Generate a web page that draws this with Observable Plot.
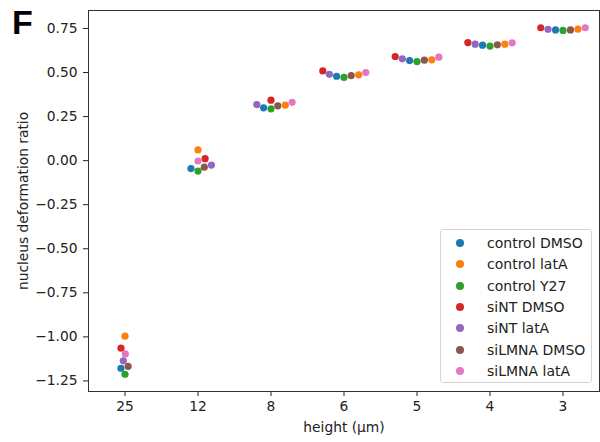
<!DOCTYPE html>
<html><head><meta charset="utf-8">
<script src="https://cdn.jsdelivr.net/npm/d3@7"></script>
<script src="https://cdn.jsdelivr.net/npm/@observablehq/plot@0.6"></script>
<style>
body{margin:0;background:#fff;}
#wrap{position:relative;width:600px;height:442px;font-family:"DejaVu Sans",sans-serif;color:#222;}
#panel{position:absolute;left:12px;top:2px;font:bold 34px "Liberation Sans",Arial,sans-serif;color:#000;line-height:40px;}
#legend{position:absolute;left:440px;top:229px;width:150px;height:152px;border:1px solid #d4d4d4;border-radius:3px;background:rgba(255,255,255,0.8);}
.row{position:absolute;left:0;height:20px;font-size:14px;line-height:20px;white-space:nowrap;}
.row .sw{position:absolute;left:15px;top:6px;width:8px;height:8px;border-radius:50%;}
.row .lb{position:absolute;left:46px;top:0;}
</style></head>
<body>
<div id="wrap"></div>
<script>
// ---- data ----
const heights = ["25", "12", "8", "6", "5", "4", "3"];
const series = ["control DMSO", "control latA", "control Y27", "siNT DMSO", "siNT latA", "siLMNA DMSO", "siLMNA latA"];
const controlDMSO = [-1.178, -0.045, 0.300, 0.479, 0.568, 0.655, 0.742];
const controlLatA = [-0.996, 0.061, 0.315, 0.487, 0.572, 0.661, 0.746];
const controlY27  = [-1.212, -0.059, 0.294, 0.472, 0.562, 0.650, 0.739];
const siNTDMSO    = [-1.064, 0.011, 0.343, 0.509, 0.591, 0.670, 0.754];
const siNTLatA    = [-1.136, -0.025, 0.318, 0.490, 0.578, 0.661, 0.745];
const siLMNADMSO  = [-1.167, -0.037, 0.311, 0.483, 0.570, 0.657, 0.742];
const siLMNALatA  = [-1.097, -0.002, 0.331, 0.500, 0.587, 0.669, 0.754];
const yTicks = [-1.25, -1.0, -0.75, -0.5, -0.25, 0, 0.25, 0.5, 0.75];

// ---- styles ----
const palette = ["#1f77b4", "#ff7f0e", "#2ca02c", "#d62728", "#9467bd", "#8c564b", "#e377c2"];
const seriesValues = [controlDMSO, controlLatA, controlY27, siNTDMSO, siNTLatA, siLMNADMSO, siLMNALatA];

const W = 600, H = 442, mL = 88, mR = 1, mT = 10, mB = 51;
const yDomain = [-1.31, 0.852];
const ky = (H - mT - mB) / (yDomain[1] - yDomain[0]);
const kx = (W - mL - mR) / heights.length;
const R = 3.57; // swarm collision radius (px)

// seaborn-style beeswarm layout
function beeswarm(pts) {
  const swarm = [{...pts[0], px: 0}];
  for (const p of pts.slice(1)) {
    const neighbors = [];
    for (let j = swarm.length - 1; j >= 0; j--) {
      if (p.py - swarm[j].py < 2 * R) neighbors.unshift(swarm[j]); else break;
    }
    const cands = [0];
    let leftFirst = true;
    for (const q of neighbors) {
      const dy = p.py - q.py;
      const dx = Math.sqrt(Math.max(4 * R * R - dy * dy, 0)) * 1.05;
      if (leftFirst) cands.push(q.px - dx, q.px + dx); else cands.push(q.px + dx, q.px - dx);
      leftFirst = !leftFirst;
    }
    const order = cands.map((c, k) => [c, k]).sort((a, b) => (Math.abs(a[0]) - Math.abs(b[0])) || (a[1] - b[1]));
    let px = order[0][0];
    if (neighbors.length) {
      for (const [c] of order) {
        if (neighbors.every(q => (c - q.px) ** 2 + (p.py - q.py) ** 2 >= 4 * R * R - 1e-9)) { px = c; break; }
      }
    }
    swarm.push({...p, px});
  }
  return swarm;
}

const rows = [];
heights.forEach((h, i) => {
  const pts = seriesValues.map((vals, s) => ({s, v: vals[i], py: vals[i] * ky}));
  pts.sort((a, b) => a.v - b.v || a.s - b.s);
  beeswarm(pts).sort((a, b) => a.s - b.s)
    .forEach(q => rows.push({x: i + q.px / kx, y: q.v, series: series[q.s]}));
});

const fmt = d3.format(".2f");
const chart = Plot.plot({
  width: W, height: H,
  marginLeft: mL, marginRight: mR, marginTop: mT, marginBottom: mB,
  style: {fontFamily: "DejaVu Sans, sans-serif", fontSize: "13.8px", color: "#222", background: "white"},
  x: {domain: [-0.5, heights.length - 0.5]},
  y: {domain: yDomain},
  color: {domain: series, range: palette},
  marks: [
    Plot.axisX({ticks: d3.range(heights.length), tickFormat: i => heights[i], tickSize: 5, tickPadding: 5,
      label: "height (µm)", labelAnchor: "center", labelArrow: "none", labelOffset: 40}),
    Plot.axisY({ticks: yTicks, tickFormat: fmt, tickSize: 5, tickPadding: 6,
      label: "nucleus deformation ratio", labelAnchor: "center", labelArrow: "none", labelOffset: 70}),
    Plot.dot(rows, {x: "x", y: "y", fill: "series", r: 3.6}),
    Plot.frame({stroke: "#333", strokeWidth: 1})
  ]
});

const wrap = document.getElementById("wrap");
wrap.appendChild(chart);
const panel = document.createElement("div");
panel.id = "panel"; panel.textContent = "F";
wrap.appendChild(panel);
const legend = document.createElement("div");
legend.id = "legend";
series.forEach((name, k) => {
  const row = document.createElement("div");
  row.className = "row";
  row.style.top = (3 + k * 21.3) + "px";
  const sw = document.createElement("span"); sw.className = "sw"; sw.style.background = palette[k];
  const lb = document.createElement("span"); lb.className = "lb"; lb.textContent = name;
  row.appendChild(sw); row.appendChild(lb);
  legend.appendChild(row);
});
wrap.appendChild(legend);
</script>
</body></html>
